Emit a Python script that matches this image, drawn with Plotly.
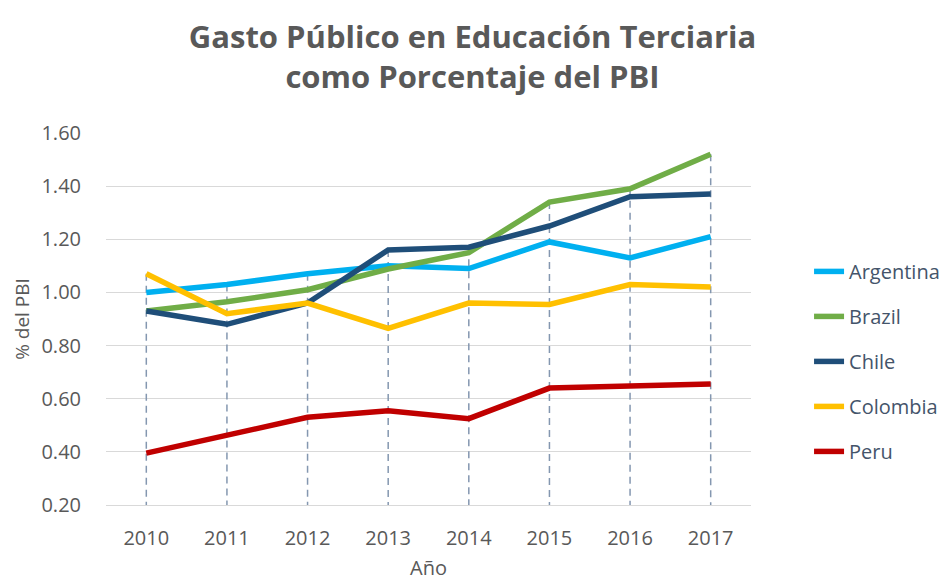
import plotly.graph_objects as go

years = ["2010", "2011", "2012", "2013", "2014", "2015", "2016", "2017"]
argentina = [1.00, 1.03, 1.07, 1.10, 1.09, 1.19, 1.13, 1.21]
brazil = [0.93, 0.965, 1.01, 1.088, 1.15, 1.34, 1.39, 1.52]
chile = [0.93, 0.88, 0.96, 1.16, 1.17, 1.25, 1.36, 1.37]
colombia = [1.07, 0.92, 0.96, 0.865, 0.96, 0.955, 1.03, 1.02]
peru = [0.395, 0.465, 0.53, 0.555, 0.525, 0.64, 0.648, 0.655]

series = [
    ("Argentina", argentina, "#00B0F0"),
    ("Brazil", brazil, "#70AD47"),
    ("Chile", chile, "#1F4E79"),
    ("Colombia", colombia, "#FFC000"),
    ("Peru", peru, "#C00000"),
]

y_min, y_max = 0.2, 1.6

fig = go.Figure()

# drop lines from the highest series value down to the axis floor
dx, dy = [], []
for i, yr in enumerate(years):
    top = max(s[1][i] for s in series)
    dx += [yr, yr, None]
    dy += [top, y_min, None]
fig.add_trace(go.Scatter(
    x=dx, y=dy, mode="lines", showlegend=False, hoverinfo="skip",
    line=dict(color="#8497B0", width=1.5, dash="7px,5px"),
))

for i, (name, vals, color) in enumerate(series):
    fig.add_trace(go.Scatter(
        x=years, y=vals, name=name, mode="lines",
        line=dict(color=color, width=5.5),
        legendgroup=name,
    ))

FONT = "'Open Sans', sans-serif"

fig.update_layout(
    width=945, height=581,
    paper_bgcolor="white", plot_bgcolor="white",
    margin=dict(l=106, r=194, t=133, b=76, autoexpand=False),
    font=dict(family=FONT, color="#595959"),
    title=dict(
        text="<b>Gasto Público en Educación Terciaria<br>como Porcentaje del PBI</b>",
        x=0.5, xanchor="center", xref="container",
        y=1 - 48 / 581, yanchor="middle", yref="container",
        font=dict(size=31, color="#595959", family=FONT),
    ),
    showlegend=True,
    legend=dict(
        x=1.09, xanchor="left", y=0.386, yanchor="middle",
        font=dict(size=20, color="#44546A", family=FONT),
        tracegroupgap=16, itemwidth=30,
        bgcolor="rgba(0,0,0,0)",
    ),
    xaxis=dict(
        type="category", range=[-0.5, 7.5], automargin=False,
        showgrid=False, showline=True, linecolor="#D9D9D9", linewidth=1,
        ticks="outside", ticklen=15, tickcolor="rgba(0,0,0,0)",
        tickfont=dict(size=20, color="#595959", family=FONT),
        title=dict(text="Año", font=dict(size=20, color="#595959", family=FONT), standoff=17),
        zeroline=False,
    ),
    yaxis=dict(
        range=[y_min, y_max], dtick=0.2, tick0=0.2, tickformat=".2f", automargin=False,
        showgrid=True, gridcolor="#D9D9D9", gridwidth=1,
        showline=False, zeroline=False,
        ticks="outside", ticklen=20, tickcolor="rgba(0,0,0,0)",
        tickfont=dict(size=20, color="#595959", family=FONT),
        title=dict(text="% del PBI", font=dict(size=19, color="#595959", family=FONT), standoff=6),
    ),
)

fig.write_html("out.html", config={"displayModeBar": False},
               post_script="document.body.style.margin='0';")
